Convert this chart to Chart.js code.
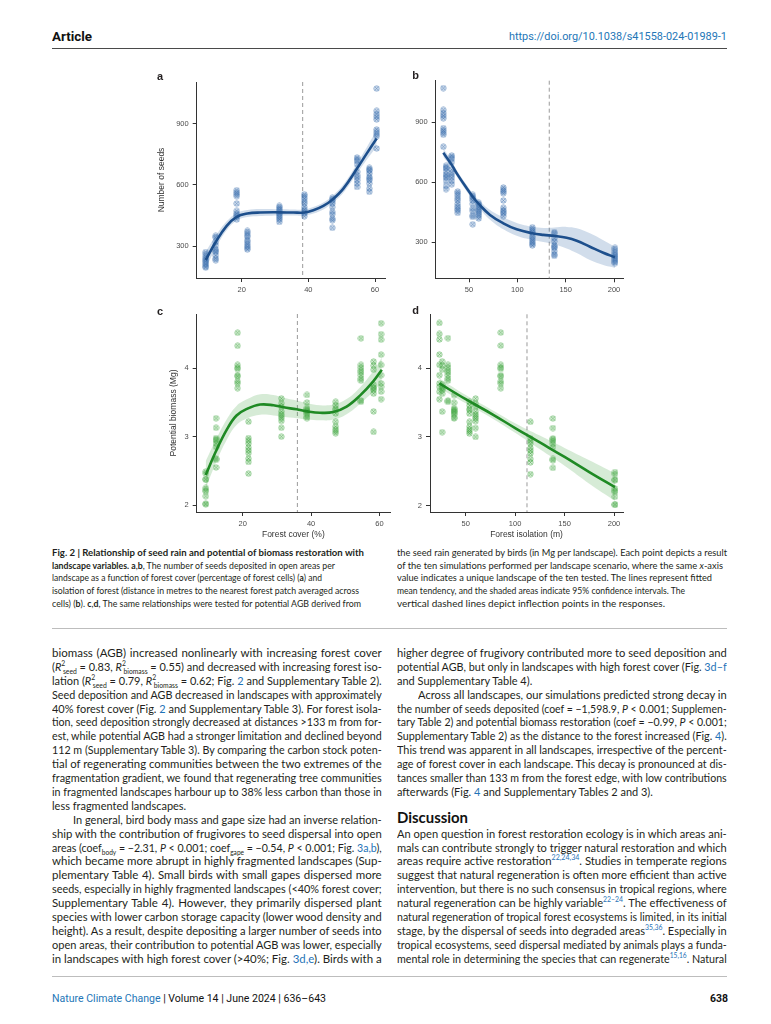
<!DOCTYPE html>
<html><head><meta charset="utf-8">
<script src="https://cdn.jsdelivr.net/npm/chart.js@4.4.1/dist/chart.umd.min.js"></script>
<style>
html,body{margin:0;padding:0;background:#fff}
body{width:771px;height:1024px;position:relative;overflow:hidden;color:#231f20;font-family:Lato,'Noto Sans',sans-serif}
.t{position:absolute;white-space:nowrap;transform-origin:0 50%;line-height:1}
.lk{color:#1f73b7}
sup,sub{font-size:0.62em;line-height:0}
sub.st{margin-left:-0.35em}
.rule{position:absolute;height:0}
canvas{position:absolute}
.pl{position:absolute;font:bold 11px 'Liberation Sans',Arial,sans-serif;transform:translate(-50%,-50%);line-height:1}
</style></head><body>
<div id="page"></div>
<canvas id="ca" width="260" height="240" style="left:140px;top:60px;width:260px;height:240px"></canvas>
<canvas id="cb" width="260" height="240" style="left:390px;top:60px;width:260px;height:240px"></canvas>
<canvas id="cc" width="260" height="250" style="left:140px;top:295px;width:260px;height:250px"></canvas>
<canvas id="cd" width="260" height="250" style="left:390px;top:295px;width:260px;height:250px"></canvas>
<div class="pl" style="left:160px;top:76px">a</div>
<div class="pl" style="left:415.7px;top:75px">b</div>
<div class="pl" style="left:160px;top:311px">c</div>
<div class="pl" style="left:415.7px;top:310px">d</div>
<div class="rule" style="left:52px;top:47.5px;width:675px;border-top:1.3px solid #4a4a4a"></div>
<div class="rule" style="left:52px;top:628px;width:675px;border-top:1.5px solid #bdbdbd"></div>
<div class="rule" style="left:52px;top:976px;width:675px;border-top:1.5px solid #bdbdbd"></div>
<script>
// ---------------- DATA ----------------
// ten landscapes (ten simulations each)
const forestCover = [9.2, 12.2, 18.5, 21.7, 31.3, 38.8, 47.2, 54.6, 58.3, 60.5];
const forestIsolation = [201, 138.2, 85.5, 115.5, 60, 38.3, 53.8, 32.1, 26.2, 23.4];
const seedsPerLandscape = [
  [272, 262, 250, 240, 233, 226, 218, 210, 202, 196],
  [351, 343, 321, 305, 284, 277, 272, 256, 240, 232],
  [574, 563, 554, 545, 509, 473, 460, 452, 444, 431],
  [375, 365, 354, 346, 330, 321, 310, 300, 292, 284],
  [497, 489, 481, 473, 463, 457, 448, 440, 431, 419],
  [554, 545, 533, 520, 509, 492, 479, 468, 460, 447],
  [537, 528, 520, 509, 492, 468, 457, 435, 427, 390],
  [734, 726, 717, 701, 664, 647, 636, 623, 607, 590],
  [683, 675, 669, 656, 639, 631, 623, 607, 582, 566],
  [1071, 962, 946, 933, 920, 871, 859, 848, 838, 778]
];
const biomassPerLandscape = [
  [2.49, 2.46, 2.38, 2.37, 2.25, 2.22, 2.20, 2.13, 2.02, 2.01],
  [3.27, 3.13, 2.98, 2.96, 2.94, 2.90, 2.85, 2.68, 2.66, 2.55],
  [4.52, 4.33, 4.05, 4.01, 3.99, 3.90, 3.88, 3.81, 3.78, 3.71],
  [3.22, 2.98, 2.94, 2.90, 2.84, 2.80, 2.76, 2.68, 2.63, 2.46],
  [3.56, 3.49, 3.44, 3.37, 3.33, 3.30, 3.27, 3.23, 3.13, 3.00],
  [3.61, 3.50, 3.42, 3.40, 3.38, 3.37, 3.35, 3.33, 3.29, 3.27],
  [3.51, 3.46, 3.41, 3.39, 3.34, 3.22, 3.15, 3.11, 3.08, 3.05],
  [4.44, 4.05, 4.01, 3.97, 3.94, 3.90, 3.85, 3.82, 3.53, 3.51],
  [4.10, 4.04, 3.98, 3.76, 3.72, 3.70, 3.68, 3.63, 3.37, 3.07],
  [4.66, 4.50, 4.42, 4.20, 4.05, 3.90, 3.78, 3.73, 3.66, 3.55]
];
// fitted mean tendency and 95% CI
const seedCoverX     = [9.2, 12.2, 15.5, 18.5, 21.7, 25.5, 31.3, 35.5, 38.8, 41.5, 44.5, 47.2, 50.5, 54.6, 57.5, 60.5];
const seedCoverFit   = [233, 321, 400, 444, 460, 465, 466, 465, 465, 476, 497, 528, 582, 680, 753, 827];
const seedCoverUpper = [273, 351, 422, 462, 477, 482, 481, 480, 480, 492, 514, 546, 602, 704, 783, 867];
const seedCoverLower = [193, 291, 378, 426, 443, 448, 451, 450, 450, 460, 480, 510, 562, 656, 723, 787];

const seedIsoX     = [23.4, 32.1, 38.3, 47.6, 53.8, 60, 71.7, 85.5, 99.3, 115.5, 126.9, 138.2, 151, 161.4, 175.1, 188.9, 201];
const seedIsoFit   = [748, 687, 637, 570, 528, 492, 437, 395, 365, 345, 337, 332, 323, 308, 278, 248, 225];
const seedIsoUpper = [770, 705, 653, 586, 545, 511, 461, 425, 397, 378, 372, 374, 377, 370, 345, 310, 278];
const seedIsoLower = [726, 669, 621, 554, 511, 473, 413, 365, 333, 312, 302, 290, 269, 246, 211, 186, 172];

const bioCoverX     = [9.17, 12.1, 15.3, 18.2, 21.4, 25.1, 29.0, 31.9, 35.8, 38.9, 42.6, 46.5, 50.4, 54.3, 58.2, 60.7];
const bioCoverFit   = [2.44, 2.78, 3.10, 3.31, 3.41, 3.47, 3.46, 3.43, 3.40, 3.37, 3.35, 3.36, 3.44, 3.60, 3.81, 3.98];
const bioCoverUpper = [2.64, 2.95, 3.25, 3.45, 3.55, 3.62, 3.61, 3.57, 3.53, 3.49, 3.46, 3.47, 3.55, 3.72, 3.96, 4.16];
const bioCoverLower = [2.24, 2.61, 2.95, 3.17, 3.27, 3.32, 3.31, 3.29, 3.27, 3.25, 3.24, 3.25, 3.33, 3.48, 3.66, 3.80];

const bioIsoX     = [23.4, 50, 77, 100, 125, 150, 175, 201];
const bioIsoFit   = [3.78, 3.55, 3.33, 3.13, 2.92, 2.71, 2.49, 2.27];
const bioIsoUpper = [3.85, 3.61, 3.39, 3.20, 3.02, 2.84, 2.66, 2.47];
const bioIsoLower = [3.71, 3.49, 3.27, 3.06, 2.82, 2.58, 2.32, 2.07];

// inflection points (vertical dashed lines)
const inflectionSeedCover = 38.3;
const inflectionSeedIso = 133;
const inflectionBioCover = 36;
const inflectionBioIso = 112;

// tick labels
const coverTicks = [20, 40, 60];
const isolationTicks = [50, 100, 150, 200];
const seedTicks = [300, 600, 900];
const biomassTicks = [2, 3, 4];

// ---------------- CHARTS ----------------
function scatterPoints(xs, ys) { const out = []; xs.forEach((x, i) => ys[i].forEach(y => out.push({x, y}))); return out; }
function curve(xs, ys) { return xs.map((x, i) => ({x, y: ys[i]})); }
function marker(fill, stroke) {
  const s = 7, c = document.createElement('canvas'); c.width = s; c.height = s;
  const g = c.getContext('2d');
  g.beginPath(); g.arc(3.5, 3.5, 2.7, 0, Math.PI * 2); g.fillStyle = fill; g.fill();
  g.lineWidth = 0.8; g.strokeStyle = stroke; g.stroke();
  g.beginPath(); g.moveTo(1.7, 1.7); g.lineTo(5.3, 5.3); g.moveTo(5.3, 1.7); g.lineTo(1.7, 5.3); g.stroke();
  return c;
}
const blueMarker = marker('rgba(110,150,200,0.28)', 'rgba(45,100,165,0.55)');
const greenMarker = marker('rgba(120,195,120,0.28)', 'rgba(55,160,55,0.55)');

const inflectionPlugin = {
  id: 'inflection',
  beforeDatasetsDraw(chart, args, opts) {
    const px = chart.scales.x.getPixelForValue(opts.value), a = chart.chartArea, ctx = chart.ctx;
    ctx.save(); ctx.setLineDash([4, 3]); ctx.strokeStyle = '#9a9a9a'; ctx.lineWidth = 1;
    ctx.beginPath(); ctx.moveTo(px, a.top); ctx.lineTo(px, a.bottom); ctx.stroke(); ctx.restore();
  }
};
const AX = '#333', TICKC = '#4d4d4d', FF = "'Liberation Sans', Arial, sans-serif";

function panel(id, o) {
  return new Chart(document.getElementById(id), {
    type: 'scatter',
    data: { datasets: [
      {type: 'line', data: curve(o.fx, o.fm), borderColor: o.lineColor, borderWidth: 2.6, pointRadius: 0, tension: 0.4, fill: false, order: 0},
      {type: 'scatter', data: scatterPoints(o.px, o.py), pointStyle: o.marker, pointRadius: 3, order: 1},
      {type: 'line', data: curve(o.fx, o.fu), borderColor: 'transparent', borderWidth: 0, pointRadius: 0, tension: 0.4, fill: '+1', backgroundColor: o.band, order: 2},
      {type: 'line', data: curve(o.fx, o.fl), borderColor: 'transparent', borderWidth: 0, pointRadius: 0, tension: 0.4, fill: false, order: 3}
    ]},
    plugins: [inflectionPlugin],
    options: {
      responsive: false, animation: false, devicePixelRatio: 1, events: [],
      layout: {padding: {top: o.padTop, right: o.padRight, left: 0, bottom: 0}},
      plugins: {legend: {display: false}, tooltip: {enabled: false}, inflection: {value: o.infl}},
      scales: {
        x: {type: 'linear', min: o.xmin, max: o.xmax,
          afterBuildTicks: s => { s.ticks = o.xt.map(v => ({value: v})); },
          afterFit: s => { s.height = o.xh; },
          grid: {drawOnChartArea: false, drawTicks: true, tickLength: 4, color: AX, lineWidth: 1},
          border: {color: AX, width: 1},
          ticks: {font: {family: FF, size: 7.5}, color: TICKC, padding: 3, maxRotation: 0, autoSkip: false},
          title: o.xTitle ? {display: true, text: o.xTitle, color: '#333', font: {family: FF, size: 8.5}, padding: {top: 0, bottom: 4.9}} : {display: false}
        },
        y: {type: 'linear', min: o.ymin, max: o.ymax,
          afterBuildTicks: s => { s.ticks = o.yt.map(v => ({value: v})); },
          afterFit: s => { s.width = o.yw; },
          grid: {drawOnChartArea: false, drawTicks: true, tickLength: 4, color: AX, lineWidth: 1},
          border: {color: AX, width: 1},
          ticks: {font: {family: FF, size: 7.5}, color: TICKC, padding: 4, autoSkip: false},
          title: o.yTitle ? {display: true, text: o.yTitle, color: '#333', font: {family: FF, size: 8.5}, padding: {top: o.yTitlePad, bottom: 0}} : {display: false}
        }
      }
    }
  });
}
const BLUE = '#1d4f8c', BLUEBAND = 'rgba(45,100,165,0.22)', GREEN = '#1f8a24', GREENBAND = 'rgba(70,165,70,0.22)';
panel('ca', {px: forestCover, py: seedsPerLandscape, fx: seedCoverX, fm: seedCoverFit, fu: seedCoverUpper, fl: seedCoverLower,
  lineColor: BLUE, band: BLUEBAND, marker: blueMarker, infl: inflectionSeedCover,
  xmin: 6.5, xmax: 63, ymin: 145, ymax: 1103, xt: coverTicks, yt: seedTicks,
  padTop: 22, padRight: 15, yw: 56.7, xh: 22, yTitle: 'Number of seeds', yTitlePad: 16.6});
panel('cb', {px: forestIsolation, py: seedsPerLandscape, fx: seedIsoX, fm: seedIsoFit, fu: seedIsoUpper, fl: seedIsoLower,
  lineColor: BLUE, band: BLUEBAND, marker: blueMarker, infl: inflectionSeedIso,
  xmin: 15.5, xmax: 209.3, ymin: 120, ymax: 1108, xt: isolationTicks, yt: seedTicks,
  padTop: 20.7, padRight: 27, yw: 45.7, xh: 21.7});
panel('cc', {px: forestCover, py: biomassPerLandscape, fx: bioCoverX, fm: bioCoverFit, fu: bioCoverUpper, fl: bioCoverLower,
  lineColor: GREEN, band: GREENBAND, marker: greenMarker, infl: inflectionBioCover,
  xmin: 6.54, xmax: 63.1, ymin: 1.898, ymax: 4.795, xt: coverTicks, yt: biomassTicks,
  padTop: 19, padRight: 10, yw: 56.7, xh: 33, yTitle: 'Potential biomass (Mg)', yTitlePad: 28.2, xTitle: 'Forest cover (%)'});
panel('cd', {px: forestIsolation, py: biomassPerLandscape, fx: bioIsoX, fm: bioIsoFit, fu: bioIsoUpper, fl: bioIsoLower,
  lineColor: GREEN, band: GREENBAND, marker: greenMarker, infl: inflectionBioIso,
  xmin: 13.9, xmax: 209.1, ymin: 1.908, ymax: 4.786, xt: isolationTicks, yt: biomassTicks,
  padTop: 19.3, padRight: 27, yw: 40, xh: 33, xTitle: 'Forest isolation (m)'});

// ---------------- PAGE TEXT ----------------
const page = document.getElementById('page');
function addText(html, x, yc, fs, opts) {
  const d = document.createElement('div');
  d.className = 't'; d.innerHTML = html;
  d.style.left = x + 'px'; d.style.top = (yc - fs * 0.55) + 'px'; d.style.fontSize = fs + 'px';
  if (opts.w) d.dataset.w = opts.w;
  if (opts.j) d.dataset.j = '1';
  if (opts.last) d.dataset.last = '1';
  if (opts.style) d.setAttribute('style', d.getAttribute('style') + ';' + opts.style);
  page.appendChild(d); return d;
}
addText('Article', 52, 37, 13.5, {w: 40, style: "font-family:Roboto,'Liberation Sans',sans-serif;font-weight:700;color:#111"});
addText('https://doi.org/10.1038/s41558-024-01989-1', 509, 37, 11, {w: 218, style: "font-family:Roboto,'Liberation Sans',sans-serif;color:#2376b7"});
addText('<span style="color:#2376b7">Nature Climate Change</span> | Volume 14 | June 2024 | 636–643', 52, 999, 11, {w: 274, style: "font-family:Roboto,'Liberation Sans',sans-serif;color:#111"});
addText('638', 709.6, 999, 11, {w: 18, style: "font-family:Roboto,'Liberation Sans',sans-serif;font-weight:700;color:#111"});

const capLeft = [
  ['<b>Fig. 2 | Relationship of seed rain and potential of biomass restoration with</b>', 312],
  ['<b>landscape variables. a</b>,<b>b</b>, The number of seeds deposited in open areas per', 283],
  ['landscape as a function of forest cover (percentage of forest cells) (<b>a</b>) and', 270],
  ['isolation of forest (distance in metres to the nearest forest patch averaged across', 307],
  ['cells) (<b>b</b>). <b>c</b>,<b>d</b>, The same relationships were tested for potential AGB derived from', 309]
];
const capRight = [
  ['the seed rain generated by birds (in Mg per landscape). Each point depicts a result', 330],
  ['of the ten simulations performed per landscape scenario, where the same <i>x</i>-axis', 326],
  ['value indicates a unique landscape of the ten tested. The lines represent fitted', 315],
  ['mean tendency, and the shaded areas indicate 95% confidence intervals. The', 288],
  ['vertical dashed lines depict inflection points in the responses.', 268]
];
capLeft.forEach((l, i) => addText(l[0], 52, 553 + 12.75 * i, 9.3, {w: l[1]}));
capRight.forEach((l, i) => addText(l[0], 397, 553 + 12.75 * i, 9.3, {w: l[1]}));

const R2 = (s) => '<i>R</i><sup>2</sup><sub class="st">' + s + '</sub>';
const bodyLeft = [
  ['biomass (AGB) increased nonlinearly with increasing forest cover', 'j'],
  ['(' + R2('seed') + ' = 0.83, ' + R2('biomass') + ' = 0.55) and decreased with increasing forest iso-', 'j'],
  ['lation (' + R2('seed') + ' = 0.79, ' + R2('biomass') + ' = 0.62; Fig. <span class="lk">2</span> and Supplementary Table 2).', 'j'],
  ['Seed deposition and AGB decreased in landscapes with approximately', 'j'],
  ['40% forest cover (Fig. <span class="lk">2</span> and Supplementary Table 3). For forest isola-', 'j'],
  ['tion, seed deposition strongly decreased at distances &gt;133 m from for-', 'j'],
  ['est, while potential AGB had a stronger limitation and declined beyond', 'j'],
  ['112 m (Supplementary Table 3). By comparing the carbon stock poten-', 'j'],
  ['tial of regenerating communities between the two extremes of the', 'j'],
  ['fragmentation gradient, we found that regenerating tree communities', 'j'],
  ['in fragmented landscapes harbour up to 38% less carbon than those in', 'j'],
  ['less fragmented landscapes.', 'last'],
  ['In general, bird body mass and gape size had an inverse relation-', 'i'],
  ['ship with the contribution of frugivores to seed dispersal into open', 'j'],
  ['areas (coef<sub>body</sub> = −2.31, <i>P</i> &lt; 0.001; coef<sub>gape</sub> = −0.54, <i>P</i> &lt; 0.001; Fig. <span class="lk">3a,b</span>),', 'j'],
  ['which became more abrupt in highly fragmented landscapes (Sup-', 'j'],
  ['plementary Table 4). Small birds with small gapes dispersed more', 'j'],
  ['seeds, especially in highly fragmented landscapes (&lt;40% forest cover;', 'j'],
  ['Supplementary Table 4). However, they primarily dispersed plant', 'j'],
  ['species with lower carbon storage capacity (lower wood density and', 'j'],
  ['height). As a result, despite depositing a larger number of seeds into', 'j'],
  ['open areas, their contribution to potential AGB was lower, especially', 'j'],
  ['in landscapes with high forest cover (&gt;40%; Fig. <span class="lk">3d,e</span>). Birds with a', 'j']
];
const bodyRight = [
  ['higher degree of frugivory contributed more to seed deposition and', 'j'],
  ['potential AGB, but only in landscapes with high forest cover (Fig. <span class="lk">3d–f</span>', 'j'],
  ['and Supplementary Table 4).', 'last'],
  ['Across all landscapes, our simulations predicted strong decay in', 'i'],
  ['the number of seeds deposited (coef = −1,598.9, <i>P</i> &lt; 0.001; Supplemen-', 'j'],
  ['tary Table 2) and potential biomass restoration (coef = −0.99, <i>P</i> &lt; 0.001;', 'j'],
  ['Supplementary Table 2) as the distance to the forest increased (Fig. <span class="lk">4</span>).', 'j'],
  ['This trend was apparent in all landscapes, irrespective of the percent-', 'j'],
  ['age of forest cover in each landscape. This decay is pronounced at dis-', 'j'],
  ['tances smaller than 133 m from the forest edge, with low contributions', 'j'],
  ['afterwards (Fig. <span class="lk">4</span> and Supplementary Tables 2 and 3).', 'last'],
  null,
  ['Discussion', 'head'],
  ['An open question in forest restoration ecology is in which areas ani-', 'j'],
  ['mals can contribute strongly to trigger natural restoration and which', 'j'],
  ['areas require active restoration<sup class="lk">22,24,34</sup>. Studies in temperate regions', 'j'],
  ['suggest that natural regeneration is often more efficient than active', 'j'],
  ['intervention, but there is no such consensus in tropical regions, where', 'j'],
  ['natural regeneration can be highly variable<sup class="lk">22–24</sup>. The effectiveness of', 'j'],
  ['natural regeneration of tropical forest ecosystems is limited, in its initial', 'j'],
  ['stage, by the dispersal of seeds into degraded areas<sup class="lk">35,36</sup>. Especially in', 'j'],
  ['tropical ecosystems, seed dispersal mediated by animals plays a funda-', 'j'],
  ['mental role in determining the species that can regenerate<sup class="lk">15,16</sup>. Natural', 'j']
];
const BW = 329.7, IND = 21, Y0 = 653.3, DY = 13.9, FS = 11.5;
function layCol(lines, x0) {
  lines.forEach((l, i) => {
    if (!l) return;
    const y = Y0 + DY * i;
    if (l[1] === 'j') addText(l[0], x0, y, FS, {w: BW, j: true});
    else if (l[1] === 'i') addText(l[0], x0 + IND, y, FS, {w: BW - IND, j: true});
    else if (l[1] === 'last') addText(l[0], x0, y, FS, {last: true});
    else if (l[1] === 'head') addText(l[0], x0, y - 2, 15, {w: 71, style: 'font-weight:700;color:#111'});
  });
}
layCol(bodyLeft, 52);
layCol(bodyRight, 397);

// fit each typeset line to the measured width of the original
const ratios = [];
document.querySelectorAll('.t[data-w]').forEach(el => {
  const w = +el.dataset.w, nat = el.getBoundingClientRect().width;
  if (el.dataset.j) {
    ratios.push(w / nat);
    if (nat < w) {
      const n = (el.textContent.match(/ /g) || []).length;
      if (n) el.style.wordSpacing = ((w - nat) / n) + 'px';
    } else el.style.transform = 'scaleX(' + (w / nat) + ')';
  } else el.style.transform = 'scaleX(' + (w / nat) + ')';
});
ratios.sort((a, b) => a - b);
const med = Math.min(1, ratios[Math.floor(ratios.length / 2)] || 1);
document.querySelectorAll('.t[data-last]').forEach(el => { el.style.transform = 'scaleX(' + med + ')'; });
</script>
</body></html>
